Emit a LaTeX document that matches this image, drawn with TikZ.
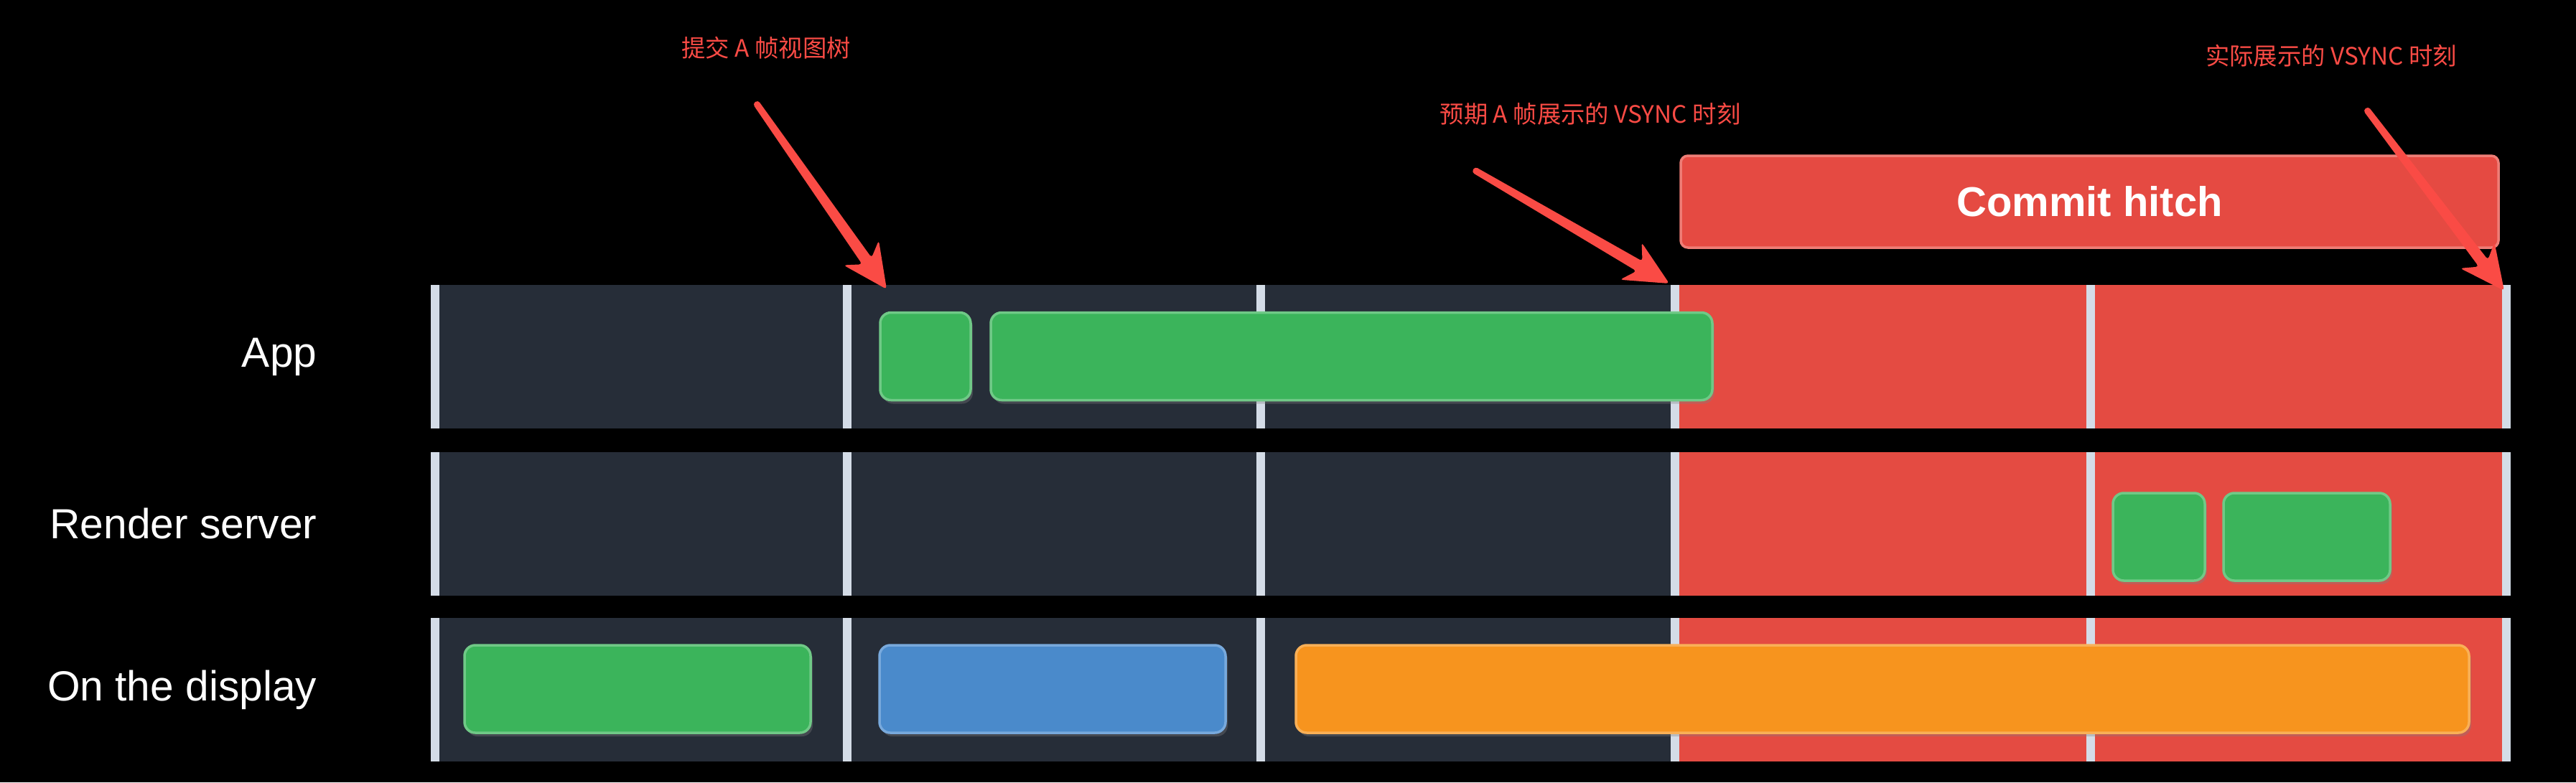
\documentclass[tikz,border=0pt]{standalone}
\usepackage{fontspec}
\setmainfont{Liberation Sans}
\newfontfamily\cjk{Noto Sans CJK SC}
\usetikzlibrary{calc, shadows}
\definecolor{vsyncdark}{RGB}{38, 45, 56}
\definecolor{divider}{RGB}{212, 220, 231}
\definecolor{cellred}{RGB}{228, 75, 66}
\definecolor{boxgreen}{RGB}{59, 180, 91}
\definecolor{boxgreenlt}{RGB}{112, 201, 135}
\definecolor{boxblue}{RGB}{74, 138, 203}
\definecolor{boxbluelt}{RGB}{120, 169, 220}
\definecolor{boxorange}{RGB}{247, 148, 30}
\definecolor{boxorangelt}{RGB}{249, 176, 87}
\definecolor{hitchred}{RGB}{229, 74, 66}
\definecolor{hitchredlt}{RGB}{238, 125, 118}
\definecolor{annored}{RGB}{250, 75, 69}
\tikzstyle{slotbox} = [rounded corners=0.15cm, line width=0.035cm, minimum height=1.22cm, inner sep=0pt, drop shadow={opacity=0.35, shadow xshift=0.03cm, shadow yshift=-0.05cm}]
\tikzstyle{greenbox} = [slotbox, fill=boxgreen, draw=boxgreenlt]
\tikzstyle{bluebox} = [slotbox, fill=boxblue, draw=boxbluelt]
\tikzstyle{orangebox} = [slotbox, fill=boxorange, draw=boxorangelt]
\tikzstyle{rowlabel} = [anchor=east, inner sep=0pt, text=white, font=\fontsize{16.7}{20}\selectfont]
\tikzstyle{annotext} = [text=annored, font=\cjk\fontsize{9.5}{11}\selectfont]
\newcommand{\redpointer}[2]{%
  \coordinate (#1neck) at ($(#2)!0.48cm!(#1)$);
  \coordinate (#1back) at ($(#2)!0.62cm!(#1)$);
  \fill[annored, rounded corners=1.2pt]
    ($(#1)!0.045cm!90:(#2)$) -- ($(#1neck)!0.08cm!90:(#2)$) -- ($(#1back)!0.3cm!90:(#2)$) -- (#2)
    -- ($(#1back)!0.3cm!-90:(#2)$) -- ($(#1neck)!0.08cm!-90:(#2)$) -- ($(#1)!0.045cm!-90:(#2)$) -- cycle;
}

\begin{document}
\begin{tikzpicture}
\fill[black] (0,0) rectangle (35.88,10.90);
\useasboundingbox (0,0) rectangle (35.88,10.90);

% Frame cells and VSYNC dividers
\foreach \y in {4.93, 2.60, 0.29} {
  \fill[vsyncdark] (6.00,\y) rectangle (23.33,\y+2.00);
  \fill[cellred] (23.33,\y) rectangle (34.97,\y+2.00);
  \foreach \x in {6.06, 11.80, 17.56, 23.33, 29.12, 34.91}
    \fill[divider] (\x-0.06,\y) rectangle (\x+0.06,\y+2.00);
}

% Row labels
\node[rowlabel] (applabel) at (4.42,5.93) {App};
\node[rowlabel] (renderlabel) at (4.42,3.60) {Render server};
\node[rowlabel] (displaylabel) at (4.42,1.29) {On the display};

% App
\node[greenbox, minimum width=1.26cm] (app1) at (12.89,5.935) {};
\node[greenbox, minimum width=10.05cm] (app2) at (18.825,5.935) {};

% Render server
\node[greenbox, minimum width=1.28cm] (render1) at (30.07,3.42) {};
\node[greenbox, minimum width=2.32cm] (render2) at (32.13,3.42) {};

% On the display
\node[greenbox, minimum width=4.82cm] (display1) at (8.88,1.30) {};
\node[bluebox, minimum width=4.82cm] (display2) at (14.66,1.30) {};
\node[orangebox, minimum width=16.34cm] (display3) at (26.22,1.30) {};

% Commit hitch
\node[draw=hitchredlt, fill=hitchred, line width=0.035cm, rounded corners=0.1cm, minimum width=11.39cm, minimum height=1.28cm, text=white, font=\bfseries\fontsize{16.5}{20}\selectfont] (hitch) at (29.105,8.09) {Commit hitch};

% Annotations
\node[annotext] (noteA) at (10.67,10.23) {提交 A 帧视图树};
\node[annotext] (noteB) at (22.15,9.31) {预期 A 帧展示的 VSYNC 时刻};
\node[annotext] (noteC) at (32.47,10.12) {实际展示的 VSYNC 时刻};

\coordinate (tailA) at (10.52,9.48);
\coordinate (tipA) at (12.35,6.87);
\coordinate (tailB) at (20.52,8.54);
\coordinate (tipB) at (23.25,6.95);
\coordinate (tailC) at (32.95,9.39);
\coordinate (tipC) at (34.88,6.85);
\redpointer{tailA}{tipA}
\redpointer{tailB}{tipB}
\redpointer{tailC}{tipC}
\end{tikzpicture}
\end{document}
